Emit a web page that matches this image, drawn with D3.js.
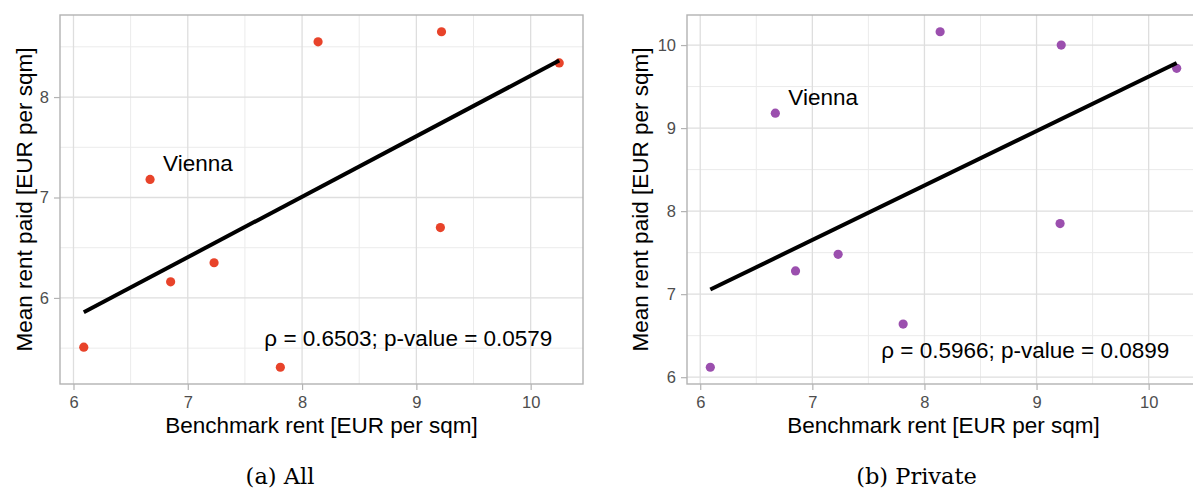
<!DOCTYPE html>
<html>
<head>
<meta charset="utf-8">
<script src="https://cdn.jsdelivr.net/npm/d3@7"></script>
<style>
  html, body { margin: 0; padding: 0; background: #ffffff; }
  svg { display: block; }
</style>
</head>
<body>
<svg id="chart" width="1193" height="488"></svg>
<script>
// Benchmark rent per city (EUR per sqm) and mean rent actually paid
const benchmark   = [6.09, 6.67, 6.85, 7.23, 7.81, 8.14, 9.21, 9.22, 10.25];
const paidAll     = [5.51, 7.18, 6.16, 6.35, 5.31, 8.55, 6.70, 8.65, 8.34];
const paidPrivate = [6.12, 9.18, 7.28, 7.48, 6.64, 10.16, 7.85, 10.00, 9.72];
const cityLabels  = ["", "Vienna", "", "", "", "", "", "", ""];

const xTicks        = [6, 7, 8, 9, 10];
const yTicksAll     = [6, 7, 8];
const yTicksPrivate = [6, 7, 8, 9, 10];

const statsAll     = "ρ = 0.6503; p-value = 0.0579";
const statsPrivate = "ρ = 0.5966; p-value = 0.0899";
const captions     = ["(a) All", "(b) Private"];

const xTitle = "Benchmark rent [EUR per sqm]";
const yTitle = "Mean rent paid [EUR per sqm]";

const svg = d3.select("#chart");
const sans = "'Liberation Sans', Arial, Helvetica, sans-serif";

// expand a data extent by 5% on each side
function padded(values) {
  const [lo, hi] = d3.extent(values);
  const p = (hi - lo) * 0.05;
  return [lo - p, hi + p];
}

// ordinary least squares fit
function linearFit(xs, ys) {
  const mx = d3.mean(xs), my = d3.mean(ys);
  let sxy = 0, sxx = 0;
  xs.forEach((x, i) => { sxy += (x - mx) * (ys[i] - my); sxx += (x - mx) * (x - mx); });
  const slope = sxy / sxx;
  return x => my + slope * (x - mx);
}

function panel(opts) {
  const { left, right, top, bottom, ys, yTicks, color, stats, statsAt,
          caption, captionX, yTitleGap } = opts;
  const g = svg.append("g");

  const x = d3.scaleLinear().domain(padded(benchmark)).range([left, right]);
  const y = d3.scaleLinear().domain(padded(ys)).range([bottom, top]);

  const rows = benchmark.map((b, i) => ({ bx: b, py: ys[i], city: cityLabels[i] }));

  const clipId = "clip" + Math.round(left);
  g.append("clipPath").attr("id", clipId)
    .append("rect").attr("x", left).attr("y", top)
    .attr("width", right - left).attr("height", bottom - top);

  const plot = g.append("g").attr("clip-path", `url(#${clipId})`);

  // minor grid at the half steps
  const xMinor = d3.range(5.5, 11, 1).filter(v => v > x.domain()[0] && v < x.domain()[1]);
  const yMinor = d3.range(4.5, 11, 1).filter(v => v > y.domain()[0] && v < y.domain()[1]);
  plot.selectAll(".xminor").data(xMinor).join("line")
    .attr("x1", d => x(d)).attr("x2", d => x(d)).attr("y1", top).attr("y2", bottom)
    .attr("stroke", "#ebebeb").attr("stroke-width", 1);
  plot.selectAll(".yminor").data(yMinor).join("line")
    .attr("y1", d => y(d)).attr("y2", d => y(d)).attr("x1", left).attr("x2", right)
    .attr("stroke", "#ebebeb").attr("stroke-width", 1);

  // major grid
  plot.selectAll(".xmajor").data(xTicks).join("line")
    .attr("x1", d => x(d)).attr("x2", d => x(d)).attr("y1", top).attr("y2", bottom)
    .attr("stroke", "#dedede").attr("stroke-width", 1.3);
  plot.selectAll(".ymajor").data(yTicks).join("line")
    .attr("y1", d => y(d)).attr("y2", d => y(d)).attr("x1", left).attr("x2", right)
    .attr("stroke", "#dedede").attr("stroke-width", 1.3);

  // points
  plot.selectAll(".pt").data(rows).join("circle")
    .attr("cx", d => x(d.bx)).attr("cy", d => y(d.py)).attr("r", 4.6)
    .attr("fill", color);

  // regression line over the observed range
  const fit = linearFit(benchmark, ys);
  const [x0, x1] = d3.extent(benchmark);
  plot.append("line")
    .attr("x1", x(x0)).attr("y1", y(fit(x0)))
    .attr("x2", x(x1)).attr("y2", y(fit(x1)))
    .attr("stroke", "#000").attr("stroke-width", 4);

  // city labels
  plot.selectAll(".lab").data(rows.filter(d => d.city)).join("text")
    .attr("x", d => x(d.bx) + 13).attr("y", d => y(d.py) - 8)
    .attr("font-family", sans).attr("font-size", 22.5).attr("fill", "#000")
    .text(d => d.city);

  // correlation annotation
  plot.append("text")
    .attr("x", x(statsAt[0])).attr("y", y(statsAt[1]))
    .attr("text-anchor", "middle").attr("dominant-baseline", "central")
    .attr("font-family", sans).attr("font-size", 22.5).attr("fill", "#000")
    .text(stats);

  // panel border
  g.append("rect").attr("x", left).attr("y", top)
    .attr("width", right - left).attr("height", bottom - top)
    .attr("fill", "none").attr("stroke", "#b3b3b3").attr("stroke-width", 1.4);

  // axes
  const xAxis = d3.axisBottom(x).tickValues(xTicks).tickSize(6).tickPadding(6).tickFormat(d3.format("d"));
  const ax = g.append("g").attr("transform", `translate(0,${bottom})`).call(xAxis);
  const yAxis = d3.axisLeft(y).tickValues(yTicks).tickSize(6).tickPadding(5).tickFormat(d3.format("d"));
  const ay = g.append("g").attr("transform", `translate(${left},0)`).call(yAxis);
  [ax, ay].forEach(a => {
    a.select(".domain").remove();
    a.selectAll(".tick line").attr("stroke", "#b3b3b3").attr("stroke-width", 1.2);
    a.selectAll(".tick text").attr("fill", "#4d4d4d")
      .attr("font-family", sans).attr("font-size", 16.5);
  });

  // axis titles
  g.append("text")
    .attr("x", (left + right) / 2).attr("y", 433)
    .attr("text-anchor", "middle")
    .attr("font-family", sans).attr("font-size", 22.5).attr("fill", "#000")
    .text(xTitle);
  g.append("text")
    .attr("transform", `translate(${left - yTitleGap},${(top + bottom) / 2}) rotate(-90)`)
    .attr("text-anchor", "middle")
    .attr("font-family", sans).attr("font-size", 22.5).attr("fill", "#000")
    .text(yTitle);

  // subfigure caption
  svg.append("text")
    .attr("x", captionX).attr("y", 484)
    .attr("text-anchor", "middle")
    .attr("font-family", "'DejaVu Serif', serif")
    .attr("font-size", 22.5).attr("fill", "#000")
    .text(caption);
}

panel({
  left: 60, right: 583, top: 15, bottom: 384,
  ys: paidAll, yTicks: yTicksAll, color: "#e8432a",
  stats: statsAll, statsAt: [8.93, 5.6],
  caption: captions[0], captionX: 280, yTitleGap: 28
});

panel({
  left: 687, right: 1200, top: 15, bottom: 384,
  ys: paidPrivate, yTicks: yTicksPrivate, color: "#9b4fae",
  stats: statsPrivate, statsAt: [8.9, 6.32],
  caption: captions[1], captionX: 916.5, yTitleGap: 39
});
</script>
</body>
</html>
